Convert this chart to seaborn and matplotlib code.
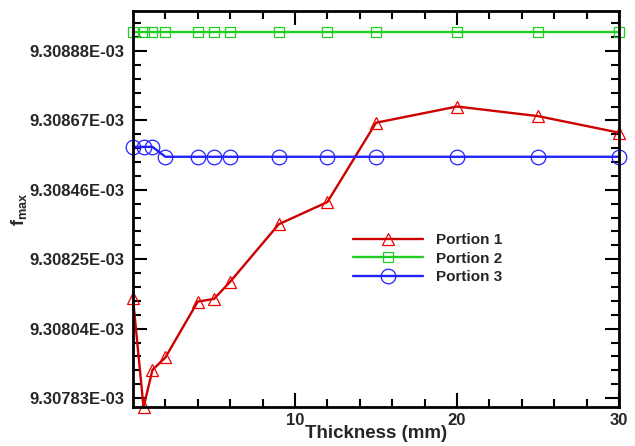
import matplotlib
matplotlib.use("Agg")
import matplotlib.pyplot as plt
import matplotlib.ticker as mticker
import numpy as np
import pandas as pd
import seaborn as sns

# ---- data ----
thickness = [0, 0.65, 1.2, 2, 4, 5, 6, 9, 12, 15, 20, 25, 30]
portion1 = [9.308132e-3, 9.307802e-3, 9.307915e-3, 9.307953e-3, 9.308122e-3,
            9.308130e-3, 9.308182e-3, 9.308356e-3, 9.308423e-3, 9.308663e-3,
            9.308712e-3, 9.308683e-3, 9.308633e-3]
portion2 = [9.3089385e-3] * 13
portion3 = [9.308590e-3, 9.308590e-3, 9.308590e-3, 9.308560e-3, 9.308560e-3,
            9.308560e-3, 9.308560e-3, 9.308560e-3, 9.308560e-3, 9.308560e-3,
            9.308560e-3, 9.308560e-3, 9.308560e-3]
series_names = ["Portion 1", "Portion 2", "Portion 3"]
y_ticks = [9.30783e-3, 9.30804e-3, 9.30825e-3, 9.30846e-3, 9.30867e-3, 9.30888e-3]
x_ticks = [10, 20, 30]

df = pd.DataFrame({
    "Thickness": thickness * 3,
    "f": portion1 + portion2 + portion3,
    "Portion": sum([[n] * len(thickness) for n in series_names], []),
})

sns.set_style("ticks")
plt.rcParams["font.family"] = ["Liberation Sans", "DejaVu Sans"]
plt.rcParams["font.weight"] = "bold"
plt.rcParams["mathtext.fontset"] = "custom"
plt.rcParams["mathtext.bf"] = "Liberation Sans:bold"
plt.rcParams["mathtext.rm"] = "Liberation Sans:bold"

fig = plt.figure(figsize=(6.35, 4.46), dpi=100)
ax = fig.add_axes([133 / 635, 1 - 407 / 446, (619 - 133) / 635, (407 - 11) / 446])

line_colors = ["#CC0000", "#22CC22", "#2222FF"]
marker_colors = ["#EE0000", "#22CC22", "#2222FF"]
markers = ["^", "s", "o"]
msizes = [8.5, 7.5, 10.5]

for name, lc, mc, mk, ms in zip(series_names, line_colors, marker_colors, markers, msizes):
    sns.lineplot(data=df[df["Portion"] == name], x="Thickness", y="f", ax=ax,
                 color=lc, marker=mk, markersize=ms, markerfacecolor="none",
                 markeredgecolor=mc, markeredgewidth=0.9, linewidth=1.7,
                 estimator=None, sort=False, label=name, clip_on=False)

ax.set_xlim(0, 30)
ax.set_ylim(9.3e-3 + 780.3e-8, 9.3e-3 + 900.1e-8)

ax.xaxis.set_major_locator(mticker.FixedLocator(x_ticks))
ax.xaxis.set_minor_locator(mticker.FixedLocator(np.arange(2, 30, 2)))
ax.yaxis.set_major_locator(mticker.FixedLocator(y_ticks))
minor_y = [9.3e-3 + (783 + 4.2 * i) * 1e-8 for i in range(0, 30) if (783 + 4.2 * i) < 900]
ax.yaxis.set_minor_locator(mticker.FixedLocator(minor_y))
ax.yaxis.set_major_formatter(mticker.FormatStrFormatter("%.5E"))

ax.tick_params(which="both", direction="in", top=True, right=True, width=1.5, color="black")
ax.tick_params(which="major", length=10)
ax.tick_params(which="minor", length=6)
ax.tick_params(axis="y", which="major", labelsize=12, pad=6)
ax.tick_params(axis="x", which="major", labelsize=12, pad=4)
for lab in ax.get_xticklabels() + ax.get_yticklabels():
    lab.set_fontweight("bold")

for sp in ax.spines.values():
    sp.set_linewidth(2)
    sp.set_color("black")

ax.set_xlabel("Thickness (mm)", fontsize=13.5, fontweight="bold", labelpad=0)
ax.set_ylabel(r"$\mathbf{f_{max}}$", fontsize=13, fontweight="bold")
ax.yaxis.set_label_coords(-0.215, 0.5)
ax.xaxis.set_label_coords(0.5, -0.045)

leg = ax.legend(loc="upper left", bbox_to_anchor=(353 / 635, 1 - 233 / 446),
                bbox_transform=fig.transFigure, frameon=False,
                prop={"family": "Liberation Sans", "weight": "bold", "size": 11},
                handlelength=4.6, handletextpad=0.8, labelspacing=0.3,
                borderpad=0, borderaxespad=0)

fig.savefig("out.png", dpi=100)
